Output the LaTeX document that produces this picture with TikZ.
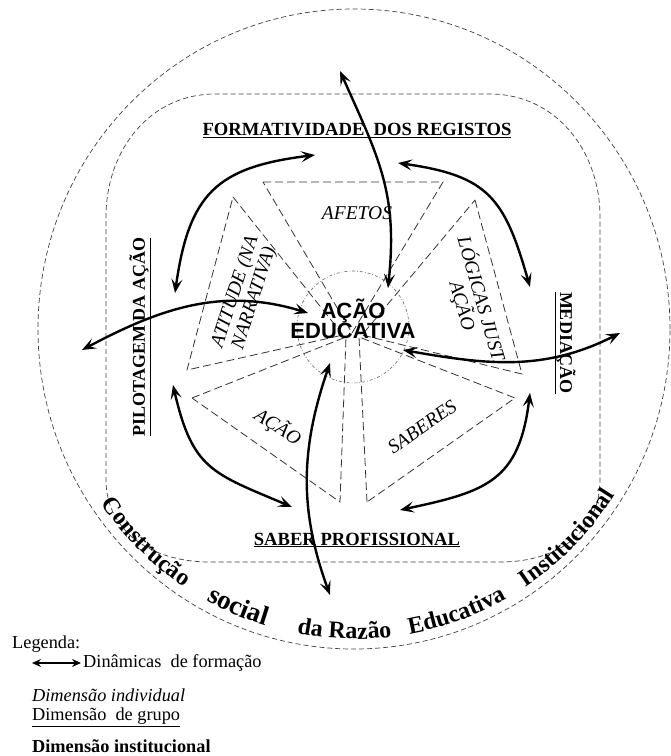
\documentclass[tikz,border=0pt]{standalone}
\usepackage{fontspec}
\setmainfont{Liberation Serif}
\newfontfamily\centresans{Liberation Sans}
\usepackage{tikz}
\usetikzlibrary{arrows,arrows.meta,decorations.text}

\tikzset{
  dim/.style={draw=black!75, line width=0.7pt, dash pattern=on 5pt off 3pt},
  wedge/.style={draw=black!80, line width=0.8pt, dash pattern=on 8pt off 4pt},
  corering/.style={draw=black!60, line width=0.6pt, dash pattern=on 3pt off 2pt on 0.8pt off 2pt},
  dyn/.style={<->, line width=2.4pt, >={Stealth[length=14pt,width=11pt,inset=6pt]}},
  heading/.style={inner sep=0pt, font=\bfseries\fontsize{18.6}{20}\selectfont},
  facet/.style={inner sep=0pt, align=center, font=\itshape\fontsize{19.5}{20}\selectfont},
  legend/.style={anchor=west, inner sep=0pt, font=\fontsize{18.3}{20}\selectfont},
  curvetext/.style 2 args={decorate, decoration={text along path, text align=center,
      text={|\bfseries\fontsize{#1}{#1}\selectfont|#2}}}
}

\begin{document}
\begin{tikzpicture}[x=1pt,y=1pt]
		\useasboundingbox (0,0) rectangle (671,-756);
		%
		\draw[dim] (354,-329) ellipse [x radius=316, y radius=320];
		\draw[dim] (106,-330) -- (106,-217) .. controls (106,-150) and (150,-94) .. (215,-94)
		  -- (490,-94) .. controls (555,-94) and (600,-150) .. (600,-217)
		  -- (600,-480) .. controls (600,-530) and (560,-562) .. (500,-562)
		  -- (210,-562) .. controls (150,-562) and (106,-530) .. (106,-480) -- cycle;
		%
		\draw[wedge] (263,-182) -- (443,-182) -- (352,-333) -- cycle;
		\draw[wedge] (233,-197) -- (343,-335) -- (187,-370) -- cycle;
		\draw[wedge] (192,-398) -- (346,-337) -- (340,-502) -- cycle;
		\draw[wedge] (367,-502) -- (359,-337) -- (515,-398) -- cycle;
		\draw[wedge] (475,-200) -- (522,-374) -- (362,-335) -- cycle;
		\node[corering, circle, minimum size=112pt] (core) at (353,-327) {};
		%
		\node[align=center, inner sep=0pt, font=\centresans\bfseries\fontsize{22}{20}\selectfont] (acao) at (353,-319) {AÇÃO\\EDUCATIVA};
		\node[facet] (afetos) at (357,-213) {AFETOS};
		\node[facet, rotate=72] (atitude) at (245,-295) {ATITUDE (NA\\NARRATIVA)};
		\node[facet, rotate=-74] (logicas) at (472,-303) {LÓGICAS JUST.\\AÇÃO};
		\node[facet, rotate=-33] (acaofacet) at (278,-427) {AÇÃO};
		\node[facet, rotate=35] (saberes) at (422,-427) {SABERES};
		%
		\node[heading] (format) at (357,-130) {\underline{FORMATIVIDADE\ \ DOS REGISTOS}};
		\node[heading] (saber) at (357,-540) {\underline{SABER PROFISSIONAL}};
		\node[heading, font=\bfseries\fontsize{18}{20}\selectfont, rotate=90] (pilot) at (140,-337) {\underline{PILOTAGEM DA AÇÃO}};
		\node[heading, font=\bfseries\fontsize{18}{20}\selectfont, rotate=-90] (medi) at (565,-343) {\underline{MEDIAÇÃO}};
		%
		\path[curvetext={24}{Construção}] ([shift={(206:306)}]355,-333) arc[start angle=206, end angle=244, radius=306];
		\path[curvetext={27}{social}] ([shift={(229:306)}]355,-333) arc[start angle=229, end angle=265, radius=306];
		\path[curvetext={24}{da Razão}] ([shift={(250:306)}]355,-333) arc[start angle=250, end angle=286, radius=306];
		\path[curvetext={24}{Educativa}] ([shift={(272:306)}]355,-333) arc[start angle=272, end angle=308, radius=306];
		\path[curvetext={24}{Institucional}] ([shift={(297:306)}]355,-333) arc[start angle=297, end angle=335, radius=306];
		%
		\coordinate (tlA) at (175,-293); \coordinate (tlB) at (315,-155);
		\coordinate (trA) at (398,-163); \coordinate (trB) at (530,-287);
		\coordinate (blA) at (173,-385); \coordinate (blB) at (292,-507);
		\coordinate (brA) at (530,-393); \coordinate (brB) at (400,-510);
		\coordinate (topIn) at (388,-288); \coordinate (topOut) at (340,-71);
		\coordinate (leftIn) at (308,-313); \coordinate (leftOut) at (82,-350);
		\coordinate (rightIn) at (403,-350); \coordinate (rightOut) at (620,-333);
		\coordinate (botIn) at (330,-363); \coordinate (botOut) at (330,-595);
		%
		\path[dyn]
		(tlA) edge[out=82, in=187, looseness=1.3] (tlB)
		(trA) edge[out=-8, in=106, looseness=1.3] (trB)
		(blA) edge[out=-77, in=157, looseness=1.3] (blB)
		(brA) edge[out=-97, in=12, looseness=1.3] (brB)
		(topIn) edge[out=84, in=-66, looseness=1.1] (topOut)
		(leftIn) edge[out=163, in=28] (leftOut)
		(rightIn) edge[out=-10, in=207] (rightOut)
		(botIn) edge[out=251, in=110] (botOut);
		%
		\node[legend] (legtitle) at (12,-644) {Legenda:};
		\coordinate (dynA) at (32,-663); \coordinate (dynB) at (81,-663);
		\draw[<->, line width=1.8pt, >={Stealth[length=9pt,width=8pt,inset=3pt]}] (dynA) -- (dynB);
		\node[legend] (legdyn) at (83,-663) {Dinâmicas\ \ de formação};
		\node[legend] (legind) at (32,-695) {\itshape Dimensão individual};
		\node[legend] (leggrp) at (32,-717) {\underline{Dimensão\ \ de grupo}};
		\node[legend] (leginst) at (32,-746) {\bfseries Dimensão institucional};
\end{tikzpicture}
\end{document}
